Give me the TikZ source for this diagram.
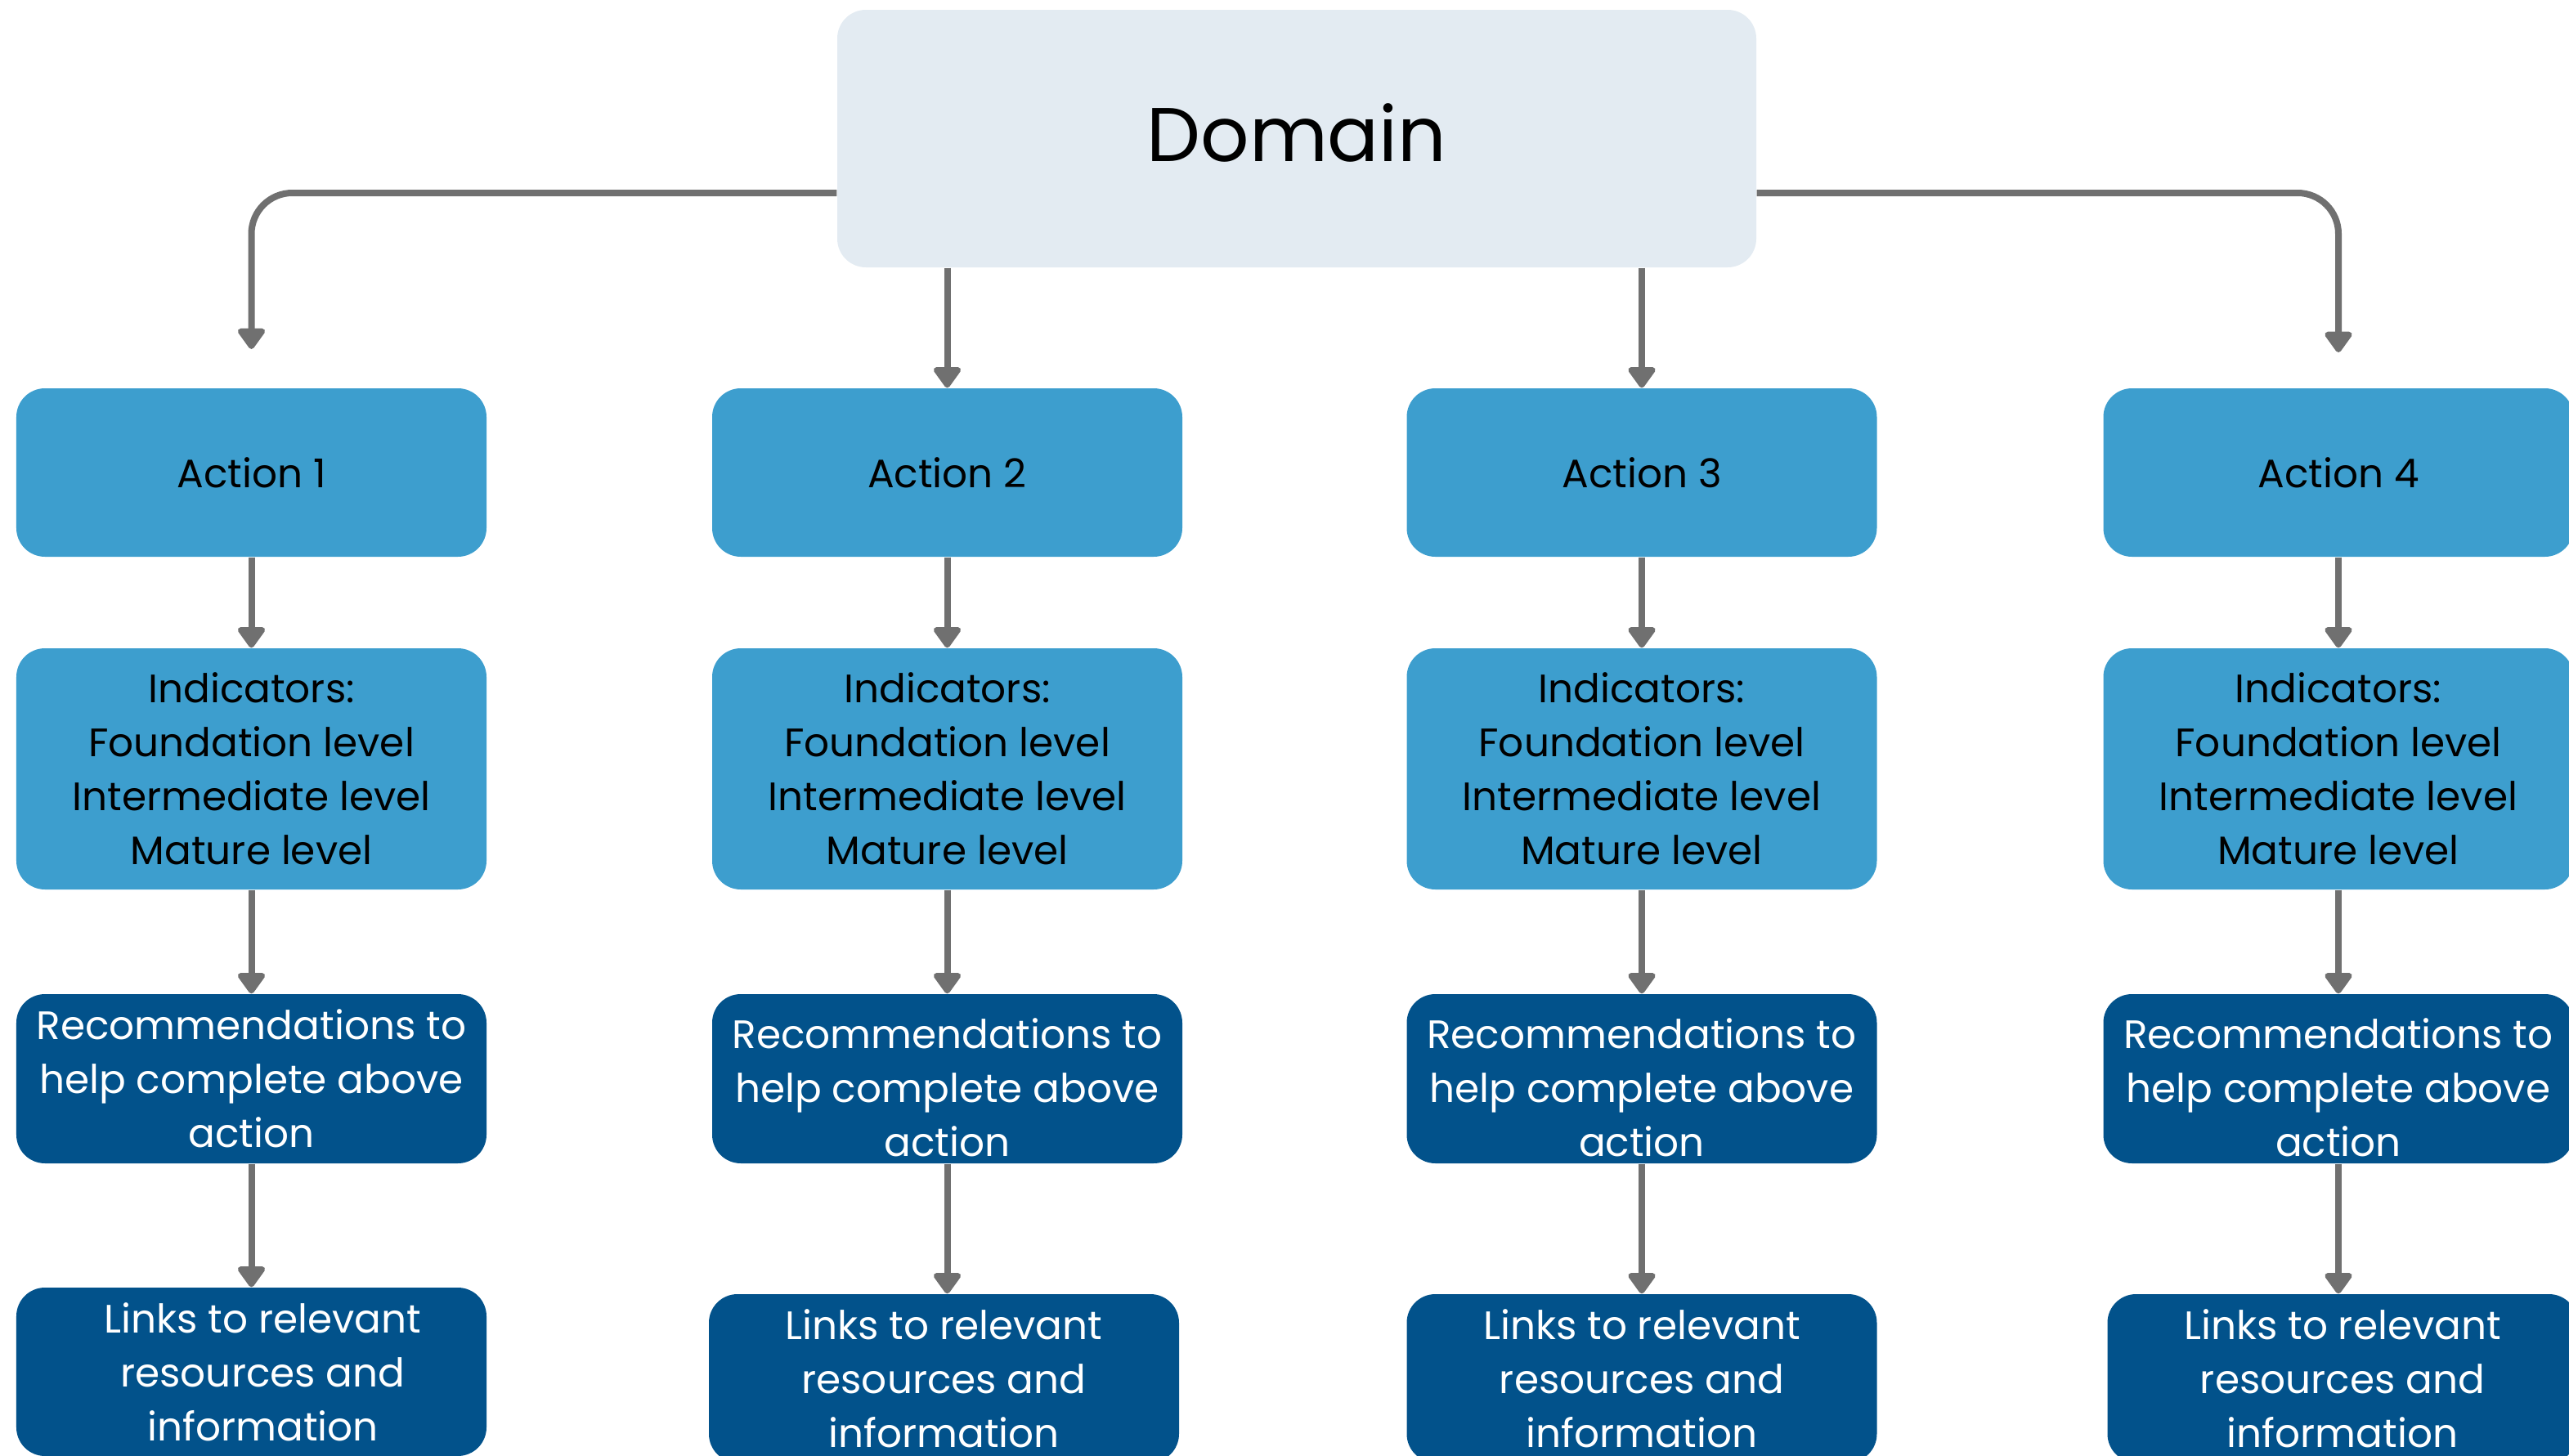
\documentclass[tikz,border=0pt]{standalone}
\usepackage{fontspec}
\setmainfont{Poppins}
\usetikzlibrary{arrows.meta}

\begin{document}
\begin{tikzpicture}[%
  box/.style={rounded corners=0.35cm, align=center, inner sep=0pt, minimum width=5.75cm, font=\fontsize{13.8}{18.8}\selectfont},%
  light/.style={box, fill={rgb,255:red,61;green,158;blue,206}, text=black},%
  dark/.style={box, fill={rgb,255:red,2;green,82;blue,139}, text=white},%
  link/.style={draw={rgb,255:red,112;green,112;blue,112}, line width=0.08cm, -{Triangle[width=0.38cm, length=0.28cm, round]}}%
]%
\useasboundingbox (0, 0) rectangle (31.42, -17.81);%
\node[rounded corners=0.35cm, fill={rgb,255:red,227;green,235;blue,242}, minimum width=11.24cm, minimum height=3.15cm, font=\fontsize{26.5}{32}\selectfont] (dom) at (15.86, -1.695) {\raisebox{0.14cm}{Domain}};%
\node[light, minimum height=2.06cm] (act1) at (3.075, -5.78) {Action 1};%
\node[light, minimum height=2.06cm] (act2) at (11.585, -5.78) {Action 2};%
\node[light, minimum height=2.06cm] (act3) at (20.08, -5.78) {Action 3};%
\node[light, minimum height=2.06cm] (act4) at (28.6, -5.78) {Action 4};%
\node[light, minimum height=2.95cm] (ind1) at (3.075, -9.405) {Indicators:\\Foundation level\\Intermediate level\\Mature level};%
\node[light, minimum height=2.95cm] (ind2) at (11.585, -9.405) {Indicators:\\Foundation level\\Intermediate level\\Mature level};%
\node[light, minimum height=2.95cm] (ind3) at (20.08, -9.405) {Indicators:\\Foundation level\\Intermediate level\\Mature level};%
\node[light, minimum height=2.95cm] (ind4) at (28.6, -9.405) {Indicators:\\Foundation level\\Intermediate level\\Mature level};%
\node[dark, minimum height=2.07cm] (rec1) at (3.075, -13.195) {Recommendations to\\help complete above\\action};%
\node[dark, minimum height=2.07cm] (rec2) at (11.585, -13.195) {\rule{0pt}{16.5pt}Recommendations to\\help complete above\\action};%
\node[dark, minimum height=2.07cm] (rec3) at (20.08, -13.195) {\rule{0pt}{16.5pt}Recommendations to\\help complete above\\action};%
\node[dark, minimum height=2.07cm] (rec4) at (28.6, -13.195) {\rule{0pt}{16.5pt}Recommendations to\\help complete above\\action};%
\node[dark, minimum height=2.06cm] (lnk1) at (3.075, -16.78) {\hspace*{0.28cm}Links to relevant\\\hspace*{0.28cm}resources and\\\hspace*{0.28cm}information};%
\node[dark, minimum height=2.06cm] (lnk2) at (11.545, -16.86) {Links to relevant\\resources and\\information};%
\node[dark, minimum height=2.06cm] (lnk3) at (20.08, -16.86) {Links to relevant\\resources and\\information};%
\node[dark, minimum height=2.06cm] (lnk4) at (28.65, -16.86) {Links to relevant\\resources and\\information};%
% domain to actions
\coordinate (tip1) at (3.075, -4.27);%
\coordinate (tip4) at (28.6, -4.31);%
\draw[link, rounded corners=0.5cm] ([yshift=-0.665cm]dom.west) -| (tip1);%
\draw[link, rounded corners=0.5cm] ([yshift=-0.665cm]dom.east) -| (tip4);%
\draw[link] (dom.south -| act2) -- (act2.north);%
\draw[link] (dom.south -| act3) -- (act3.north);%
% down each column
\draw[link] (act1) -- (ind1);%
\draw[link] (act2) -- (ind2);%
\draw[link] (act3) -- (ind3);%
\draw[link] (act4) -- (ind4);%
\draw[link] (ind1) -- (rec1);%
\draw[link] (ind2) -- (rec2);%
\draw[link] (ind3) -- (rec3);%
\draw[link] (ind4) -- (rec4);%
\draw[link] (rec1.south) -- (rec1.south |- lnk1.north);%
\draw[link] (rec2.south) -- (rec2.south |- lnk2.north);%
\draw[link] (rec3.south) -- (rec3.south |- lnk3.north);%
\draw[link] (rec4.south) -- (rec4.south |- lnk4.north);%
\end{tikzpicture}
\end{document}
